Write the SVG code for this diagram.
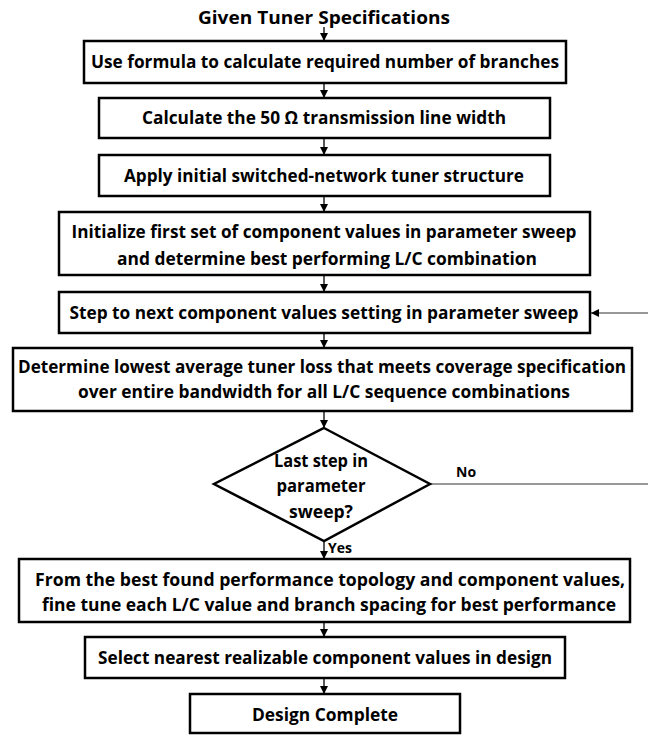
<svg xmlns="http://www.w3.org/2000/svg" width="648" height="735" viewBox="0 0 648 735">
<defs>
<marker id="ah" viewBox="0 0 10 10" refX="10" refY="5" markerWidth="8" markerHeight="8" markerUnits="userSpaceOnUse" orient="auto">
<path d="M0,0 L10,5 L0,10 z" fill="#000"/>
</marker>
<style>
.box{fill:#fff;stroke:#000;stroke-width:2.5}
.t{font-family:"Open Sans","Noto Sans",sans-serif;font-weight:bold;font-size:17px;fill:#000;text-anchor:middle}
.c{fill:none;stroke:#000;stroke-width:1.3;marker-end:url(#ah)}
.fb{fill:none;stroke:#333;stroke-width:1.2;marker-end:url(#ah)}
.lbl{font-family:"Open Sans","Noto Sans",sans-serif;font-weight:bold;font-size:14px;fill:#000}
</style>
</defs>
<rect width="648" height="735" fill="#fff"/>
<g id="connectors">
<path class="c" d="M324,27 V41"/>
<path class="c" d="M324,83 V98"/>
<path class="c" d="M324,138 V155"/>
<path class="c" d="M324,196 V212"/>
<path class="c" d="M324,275 V292"/>
<path class="c" d="M324,333 V348"/>
<path class="c" d="M324,411 V428"/>
<path class="c" d="M324,541 V559"/>
<path class="c" d="M324,622 V637"/>
<path class="c" d="M324,678 V694"/>
<path class="fb" d="M430,484 H650 V313 H591"/>
<text class="lbl" x="456" y="477">No</text>
<text class="lbl" x="328" y="553" font-size="13">Yes</text>
</g>
<g id="start">
<text class="t" x="324" y="24" font-size="20" textLength="252" lengthAdjust="spacingAndGlyphs">Given Tuner Specifications</text>
</g>
<g id="n1">
<rect class="box" x="84" y="41" width="482" height="42"/>
<text class="t" x="325" y="68" textLength="468" lengthAdjust="spacingAndGlyphs">Use formula to calculate required number of branches</text>
</g>
<g id="n2">
<rect class="box" x="99" y="98" width="451" height="40"/>
<text class="t" x="324" y="124" textLength="364" lengthAdjust="spacingAndGlyphs">Calculate the 50 Ω transmission line width</text>
</g>
<g id="n3">
<rect class="box" x="99" y="155" width="451" height="41"/>
<text class="t" x="324" y="182" textLength="400" lengthAdjust="spacingAndGlyphs">Apply initial switched-network tuner structure</text>
</g>
<g id="n4">
<rect class="box" x="59" y="212" width="531" height="63"/>
<text class="t" x="324" y="238" textLength="505" lengthAdjust="spacingAndGlyphs">Initialize first set of component values in parameter sweep</text>
<text class="t" x="327" y="265" textLength="420" lengthAdjust="spacingAndGlyphs">and determine best performing L/C combination</text>
</g>
<g id="n5">
<rect class="box" x="59" y="292" width="531" height="41"/>
<text class="t" x="324" y="319" textLength="509" lengthAdjust="spacingAndGlyphs">Step to next component values setting in parameter sweep</text>
</g>
<g id="n6">
<rect class="box" x="13" y="348" width="619" height="63"/>
<text class="t" x="322" y="373" textLength="608" lengthAdjust="spacingAndGlyphs">Determine lowest average tuner loss that meets coverage specification</text>
<text class="t" x="324" y="398" textLength="492" lengthAdjust="spacingAndGlyphs">over entire bandwidth for all L/C sequence combinations</text>
</g>
<g id="decision">
<path class="box" d="M324,428 L430,484 L324,541 L214,484 Z"/>
<text class="t" x="321" y="467" textLength="94" lengthAdjust="spacingAndGlyphs">Last step in</text>
<text class="t" x="321" y="492" textLength="89" lengthAdjust="spacingAndGlyphs">parameter</text>
<text class="t" x="321" y="518" textLength="64" lengthAdjust="spacingAndGlyphs">sweep?</text>
</g>
<g id="n7">
<rect class="box" x="19" y="559" width="611" height="63"/>
<text class="t" x="330" y="586" textLength="590" lengthAdjust="spacingAndGlyphs">From the best found performance topology and component values,</text>
<text class="t" x="329" y="611" textLength="574" lengthAdjust="spacingAndGlyphs">fine tune each L/C value and branch spacing for best performance</text>
</g>
<g id="n8">
<rect class="box" x="85" y="637" width="480" height="41"/>
<text class="t" x="325" y="664" textLength="454" lengthAdjust="spacingAndGlyphs">Select nearest realizable component values in design</text>
</g>
<g id="end">
<rect class="box" x="190" y="694" width="270" height="39"/>
<text class="t" x="325" y="721" textLength="146" lengthAdjust="spacingAndGlyphs">Design Complete</text>
</g>
</svg>
